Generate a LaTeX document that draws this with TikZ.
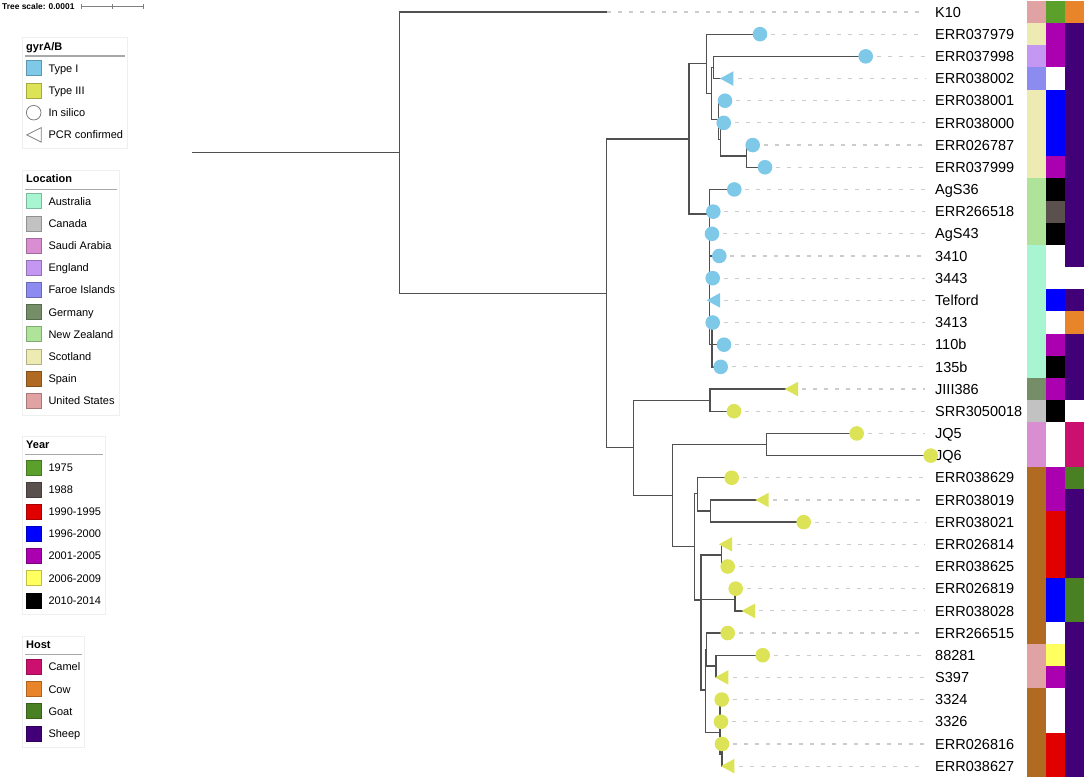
\documentclass[tikz,border=0pt]{standalone}
\usepackage{fontspec}
\setmainfont{Liberation Sans}
\usetikzlibrary{positioning}
\definecolor{typeone}{HTML}{7EC8E8}
\definecolor{typethree}{HTML}{DCE356}
\definecolor{treegray}{HTML}{505050}
\definecolor{dashgray}{HTML}{CCCCCC}
\definecolor{boxgray}{HTML}{EFEFEF}
\definecolor{rulegray}{HTML}{A8A8A8}
\definecolor{locaus}{HTML}{A8F5D2}
\definecolor{loccan}{HTML}{C2C2C2}
\definecolor{locsau}{HTML}{D98ED2}
\definecolor{loceng}{HTML}{C497F2}
\definecolor{locfar}{HTML}{8C8CF0}
\definecolor{locger}{HTML}{758E68}
\definecolor{locnz}{HTML}{B0E39A}
\definecolor{locsco}{HTML}{EDEBB2}
\definecolor{locspa}{HTML}{B06A22}
\definecolor{locusa}{HTML}{E0A2A2}
\definecolor{yr75}{HTML}{5BA02A}
\definecolor{yr88}{HTML}{5A504E}
\definecolor{yr90}{HTML}{E00000}
\definecolor{yr96}{HTML}{0000FF}
\definecolor{yr01}{HTML}{AA00B0}
\definecolor{yr06}{HTML}{FFFF60}
\definecolor{yr10}{HTML}{000000}
\definecolor{hcamel}{HTML}{CC1070}
\definecolor{hcow}{HTML}{E8842A}
\definecolor{hgoat}{HTML}{4A8024}
\definecolor{hsheep}{HTML}{420078}
\begin{document}
\begin{tikzpicture}[x=1pt,y=-1pt,
  branch/.style={draw=treegray,line width=1.3pt},
  leafdash/.style={draw=dashgray,line width=1.2pt,dash pattern=on 4pt off 7pt},
  leafdot/.style={circle,inner sep=0pt,minimum size=14.6pt},
  leaflabel/.style={anchor=west,inner sep=0pt,font=\fontsize{14.5}{17}\selectfont,text height=10.4pt,text depth=0pt},
  keytext/.style={anchor=west,inner sep=0pt,font=\fontsize{11}{13}\selectfont,text height=7.9pt,text depth=0pt},
  keytitle/.style={keytext,font=\fontsize{11}{13}\selectfont\bfseries},
  keybox/.style={draw=boxgray,fill=white,line width=0.8pt},
  keyrule/.style={draw=rulegray,line width=1.2pt},
  swatch/.style={draw=#1!75!black,fill=#1,line width=0.6pt}]
\useasboundingbox (0,0) rectangle (1084,778);

\node[anchor=west,inner sep=0pt,font=\fontsize{8.4}{10}\selectfont\bfseries,text height=6pt,text depth=0pt] (TS) at (2,6.7) {Tree scale: 0.0001};
\draw[gray,line width=0.8pt] (81.7,6.7) -- (143.3,6.7);
\foreach \t in {81.7,112.5,143.3} \draw[gray,line width=0.8pt] (\t,4.5) -- (\t,8.9);

\draw[keybox] (22.7,37.7) rectangle (127.7,148);
\node[keytitle] (KG) at (26,46.7) {gyrA/B};
\draw[keyrule] (25,56) -- (125,56);
\draw[swatch=typeone] (26,60.8) rectangle (41.3,75.8);
\node[keytext] (KG1) at (48.3,68.3) {Type I};
\draw[swatch=typethree] (26,83) rectangle (41.3,98);
\node[keytext] (KG2) at (48.3,90.5) {Type III};
\draw[gray,line width=0.8pt] (33.7,112.7) circle (7.3pt);
\node[keytext] (KG3) at (48.3,112.7) {In silico};
\draw[gray,line width=0.8pt] (26.7,134.9) -- (41.3,127.6) -- (41.3,142.2) -- cycle;
\node[keytext] (KG4) at (48.3,134.9) {PCR confirmed};

\draw[keybox] (22.7,170.7) rectangle (119.3,415);
\node[keytitle] (KL) at (26,179) {Location};
\draw[keyrule] (25,189.3) -- (117,189.3);
\foreach \k/\c/\t in {0/locaus/Australia,1/loccan/Canada,2/locsau/Saudi Arabia,3/loceng/England,4/locfar/Faroe Islands,5/locger/Germany,6/locnz/New Zealand,7/locsco/Scotland,8/locspa/Spain,9/locusa/United States}{
  \pgfmathsetmacro\yy{201.3+\k*22.15}
  \draw[swatch=\c] (26,{\yy-7.5}) rectangle (41.3,{\yy+7.5});
  \node[keytext] (KL\k) at (48.3,\yy) {\t};
}

\draw[keybox] (22.7,436.7) rectangle (105.3,614);
\node[keytitle] (KY) at (26,445) {Year};
\draw[keyrule] (25,454.7) -- (103,454.7);
\foreach \k/\c/\t in {0/yr75/1975,1/yr88/1988,2/yr90/1990-1995,3/yr96/1996-2000,4/yr01/2001-2005,5/yr06/2006-2009,6/yr10/2010-2014}{
  \pgfmathsetmacro\yy{467.3+\k*22.17}
  \draw[swatch=\c] (26,{\yy-7.5}) rectangle (41.3,{\yy+7.5});
  \node[keytext] (KY\k) at (48.3,\yy) {\t};
}

\draw[keybox] (22.7,636) rectangle (84.3,747.3);
\node[keytitle] (KH) at (26,645) {Host};
\draw[keyrule] (25,654.7) -- (82,654.7);
\foreach \k/\c/\t in {0/hcamel/Camel,1/hcow/Cow,2/hgoat/Goat,3/hsheep/Sheep}{
  \pgfmathsetmacro\yy{667+\k*22.1}
  \draw[swatch=\c] (26,{\yy-7.5}) rectangle (41.3,{\yy+7.5});
  \node[keytext] (KH\k) at (48.3,\yy) {\t};
}

\foreach \i/\lab/\lx in {1/K10/606.7,2/ERR037979/760,3/ERR037998/865.7,4/ERR038002/726.7,5/ERR038001/725,6/ERR038000/723.7,7/ERR026787/752.7,8/ERR037999/765,9/AgS36/734.3,10/ERR266518/713.3,11/AgS43/712,12/3410/719.3,13/3443/712.7,14/Telford/713.3,15/3413/712.7,16/110b/724,17/135b/720.7,18/JIII386/791.3,19/SRR3050018/734,20/JQ5/856.7,21/JQ6/930.7,22/ERR038629/731.7,23/ERR038019/762,24/ERR038021/803.7,25/ERR026814/725.5,26/ERR038625/727.7,27/ERR026819/735.7,28/ERR038028/748.3,29/ERR266515/727.7,30/88281/762.7,31/S397/721.7,32/3324/721.7,33/3326/721,34/ERR026816/722,35/ERR038627/727.7}{
  \pgfmathsetmacro\yy{12+(\i-1)*22.18}
  \coordinate (L\i) at (\lx,\yy);
  \node[leaflabel] (T\i) at (935,\yy) {\lab};
}
\foreach \i in {1,...,35} \draw[leafdash] (L\i) -- ([xshift=-10pt]T\i.west);

\coordinate (R) at (192,152.7);
\coordinate (N1) at (399.3,152.7);
\coordinate (N2) at (606.7,293.3);
\coordinate (T1) at (689,139);
\coordinate (A1) at (706.3,63.3);
\coordinate (A2) at (711.7,93.3);
\coordinate (A3) at (713.3,67.5);
\coordinate (A4) at (718.3,119.3);
\coordinate (A5) at (720.5,139.5);
\coordinate (A6) at (746.7,156);
\coordinate (B1) at (709.3,214);
\coordinate (B2) at (712,344.7);
\coordinate (C1) at (633.3,447.7);
\coordinate (C2) at (710,400.2);
\coordinate (C3) at (672.7,495.7);
\coordinate (C4) at (766.7,444.5);
\coordinate (C5) at (694.5,546.7);
\coordinate (D1) at (697.3,493.3);
\coordinate (D2) at (710.7,511);
\coordinate (F) at (701,600);
\coordinate (E1) at (721.7,555);
\coordinate (E2) at (735,599.8);
\coordinate (G) at (705.3,690);
\coordinate (H1) at (706.7,649.3);
\coordinate (H2) at (716,666);
\coordinate (J1) at (720,732.3);
\coordinate (J2) at (722,754.3);

\draw[branch] (R) -- (N1);
\foreach \p/\c in {N1/L1,N1/N2,N2/T1,N2/C1,T1/A1,T1/B1,A1/L2,A1/A2,A2/A3,A2/A4,A3/L3,A3/L4,A4/L5,A4/A5,A5/L6,A5/A6,A6/L7,A6/L8,
  B1/L9,B1/L10,B1/L11,B1/L12,B1/L13,B1/L14,B1/B2,B2/L15,B2/L16,B2/L17,
  C1/C2,C1/C3,C2/L18,C2/L19,C3/C4,C3/C5,C4/L20,C4/L21,C5/D1,C5/F,D1/L22,D1/D2,D2/L23,D2/L24,
  F/E1,F/E2,F/G,E1/L25,E1/L26,E2/L27,E2/L28,G/H1,G/J1,H1/L29,H1/H2,H2/L30,H2/L31,J1/L32,J1/L33,J1/J2,J2/L34,J2/L35}
  \draw[branch] (\p) |- (\c);

\foreach \i in {2,3,5,6,7,8,9,10,11,12,13,15,16,17} \node[leafdot,fill=typeone] (S\i) at (L\i) {};
\foreach \i in {4,14} \fill[typeone] ([xshift=-6.7pt]L\i) -- ++(13.4,7.3) -- ++(0,-14.6) -- cycle;
\foreach \i in {19,20,21,22,24,26,27,29,30,32,33,34} \node[leafdot,fill=typethree] (S\i) at (L\i) {};
\foreach \i in {18,23,25,28,31,35} \fill[typethree] ([xshift=-6.7pt]L\i) -- ++(13.4,7.3) -- ++(0,-14.6) -- cycle;

\foreach \i/\ca/\cb/\cc in {1/locusa/yr75/hcow,2/locsco/yr01/hsheep,3/loceng/yr01/hsheep,4/locfar/white/hsheep,5/locsco/yr96/hsheep,6/locsco/yr96/hsheep,7/locsco/yr96/hsheep,8/locsco/yr01/hsheep,9/locnz/yr10/hsheep,10/locnz/yr88/hsheep,11/locnz/yr10/hsheep,12/locaus/white/hsheep,13/locaus/white/white,14/locaus/yr96/hsheep,15/locaus/white/hcow,16/locaus/yr01/hsheep,17/locaus/yr10/hsheep,18/locger/yr01/hsheep,19/loccan/yr10/white,20/locsau/white/hcamel,21/locsau/white/hcamel,22/locspa/yr01/hgoat,23/locspa/yr01/hsheep,24/locspa/yr90/hsheep,25/locspa/yr90/hsheep,26/locspa/yr90/hsheep,27/locspa/yr96/hgoat,28/locspa/yr96/hgoat,29/locspa/white/hsheep,30/locusa/yr06/hsheep,31/locusa/yr01/hsheep,32/locspa/white/hsheep,33/locspa/white/hsheep,34/locspa/yr90/hsheep,35/locspa/yr90/hsheep}{
  \pgfmathsetmacro\yt{0.9+(\i-1)*22.18}
  \pgfmathsetmacro\yb{\yt+22.4}
  \fill[\ca] (1027,\yt) rectangle (1046.3,\yb);
  \fill[\cb] (1046,\yt) rectangle (1065.3,\yb);
  \fill[\cc] (1065,\yt) rectangle (1084,\yb);
}
\end{tikzpicture}
\end{document}
